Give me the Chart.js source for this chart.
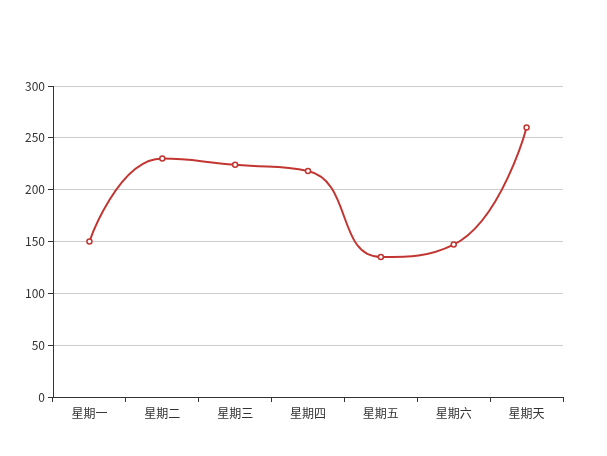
<!DOCTYPE html>
<html>
<head>
<meta charset="utf-8">
<script src="https://cdn.jsdelivr.net/npm/chart.js@4/dist/chart.umd.min.js"></script>
<style>
  html, body { margin: 0; padding: 0; background: #fff; }
  #wrap { width: 607px; height: 456px; }
</style>
</head>
<body>
<div id="wrap"><canvas id="chart"></canvas></div>
<script>
// Weekly values
const days = ['星期一', '星期二', '星期三', '星期四', '星期五', '星期六', '星期天'];
const values = [150, 230, 224, 218, 135, 147, 260];
const yTicks = [0, 50, 100, 150, 200, 250, 300];

const LINE_RED = '#c23531';
const AXIS = '#333';
const SMOOTH = 0.5;

Chart.defaults.font.family = "'Noto Sans CJK SC', 'Noto Sans', sans-serif";
Chart.defaults.font.size = 12;
Chart.defaults.color = '#333';

// recompute bezier control points: ends pinned, inner ones kept inside segment box
const smoothControlPoints = {
  id: 'smoothControlPoints',
  beforeDatasetDraw(chart, args) {
    const line = args.meta.dataset;
    if (!line) return;
    line.updateControlPoints(chart.chartArea, 'x');
    const pts = args.meta.data;
    const clamp = (v, a, b) => Math.min(Math.max(v, Math.min(a, b)), Math.max(a, b));
    const n = pts.length;
    pts.forEach((p, i) => {
      if (i === 0 || i === n - 1) {
        p.cp1x = p.cp2x = p.x;
        p.cp1y = p.cp2y = p.y;
        return;
      }
      const prev = pts[i - 1], next = pts[i + 1];
      const d0 = Math.hypot(p.x - prev.x, p.y - prev.y);
      const d1 = Math.hypot(next.x - p.x, next.y - p.y);
      const r = d1 / (d0 + d1);
      let vx = next.x - prev.x, vy = next.y - prev.y;
      let nx = clamp(p.x + vx * SMOOTH * r, p.x, next.x);
      let ny = clamp(p.y + vy * SMOOTH * r, p.y, next.y);
      vx = nx - p.x; vy = ny - p.y;
      let cx = clamp(p.x - vx * d0 / d1, prev.x, p.x);
      let cy = clamp(p.y - vy * d0 / d1, prev.y, p.y);
      vx = p.x - cx; vy = p.y - cy;
      p.cp1x = cx; p.cp1y = cy;
      p.cp2x = p.x + vx * d1 / d0;
      p.cp2y = p.y + vy * d1 / d0;
    });
  },
};

new Chart(document.getElementById('chart'), {
  type: 'line',
  data: {
    labels: days,
    datasets: [{
      data: values,
      borderColor: LINE_RED,
      borderWidth: 2,
      pointRadius: 2.5,
      pointBorderWidth: 1.5,
      pointBackgroundColor: '#fff',
      pointBorderColor: LINE_RED,
      tension: SMOOTH,
      fill: false,
    }],
  },
  plugins: [smoothControlPoints],
  options: {
    responsive: true,
    maintainAspectRatio: false,
    animation: false,
    layout: { padding: { left: 0, top: 86, right: 44, bottom: 0 } },
    plugins: {
      legend: { display: false },
      tooltip: { enabled: false },
    },
    scales: {
      x: {
        offset: true,
        grid: {
          offset: true,
          drawOnChartArea: false,
          drawTicks: true,
          tickLength: 5,
          color: AXIS,
        },
        border: { display: true, color: AXIS, width: 1 },
        ticks: { padding: 4, maxRotation: 0, color: '#333' },
        afterFit: (s) => { s.height = 59; },
      },
      y: {
        min: 0,
        max: 300,
        afterBuildTicks: (s) => { s.ticks = yTicks.map(v => ({ value: v })); },
        grid: {
          color: '#ccc',
          drawTicks: true,
          tickLength: 5,
          tickColor: AXIS,
        },
        border: { display: true, color: AXIS, width: 1 },
        ticks: { padding: 3, color: '#333' },
        afterFit: (s) => { s.width = 53; },
      },
    },
  },
});
</script>
</body>
</html>
